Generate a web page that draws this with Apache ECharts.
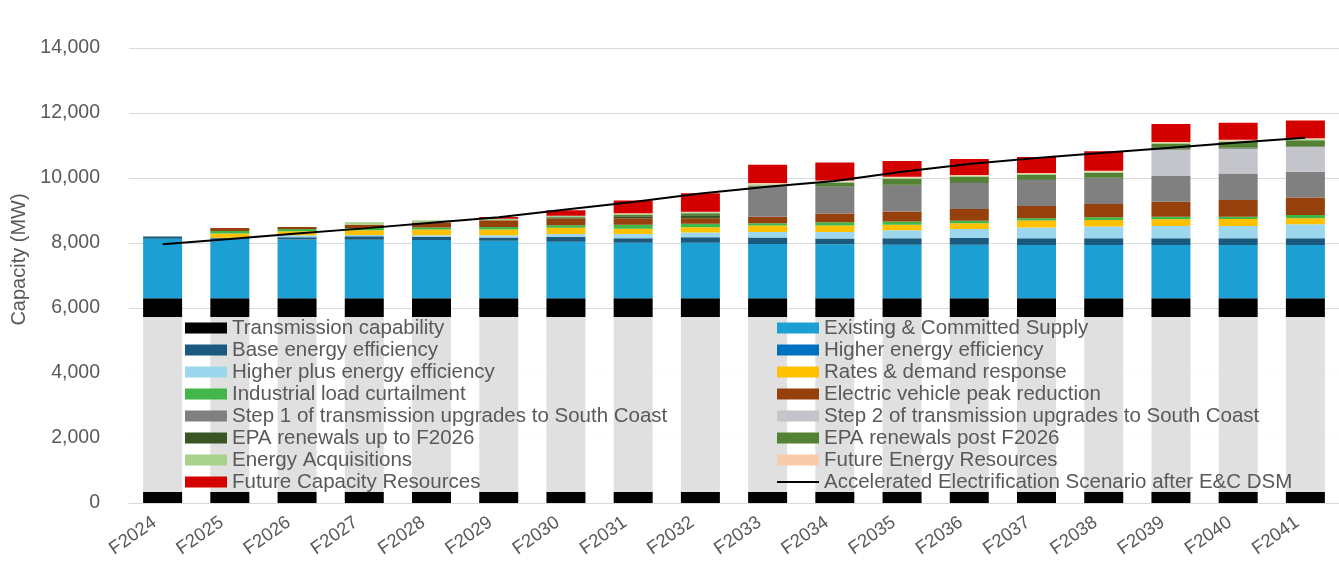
<!DOCTYPE html>
<html>
<head>
<meta charset="utf-8">
<script src="https://cdn.jsdelivr.net/npm/echarts@6/dist/echarts.min.js"></script>
<style>
  html, body { margin: 0; padding: 0; background: #fff; }
  #chart { width: 1339px; height: 577px; }
</style>
</head>
<body>
<div id="chart"></div>
<script>
// categories
const years = ['F2024', 'F2025', 'F2026', 'F2027', 'F2028', 'F2029', 'F2030', 'F2031', 'F2032',
  'F2033', 'F2034', 'F2035', 'F2036', 'F2037', 'F2038', 'F2039', 'F2040', 'F2041'];

// stacked values (MW)
const transmission = [6300, 6300, 6300, 6300, 6300, 6300, 6300, 6300, 6300, 6300, 6300, 6300, 6300, 6300, 6300, 6300, 6300, 6300];
const existing = [1830, 1830, 1810, 1800, 1790, 1770, 1740, 1710, 1710, 1670, 1660, 1650, 1650, 1640, 1640, 1640, 1640, 1640];
const baseEE = [70, 30, 70, 110, 100, 100, 155, 135, 165, 200, 175, 200, 205, 205, 205, 205, 205, 205];
const higherEE = [0, 0, 0, 0, 0, 0, 0, 0, 0, 0, 0, 0, 0, 0, 0, 0, 0, 0];
const higherPlusEE = [0, 0, 60, 40, 50, 70, 80, 135, 145, 170, 200, 245, 275, 330, 360, 380, 380, 430];
const ratesDR = [0, 130, 120, 140, 175, 175, 195, 155, 165, 200, 200, 165, 175, 215, 205, 205, 215, 185];
const industrial = [0, 80, 70, 70, 60, 80, 80, 125, 105, 70, 100, 100, 80, 70, 80, 80, 70, 100];
const evPeak = [0, 90, 60, 100, 155, 205, 205, 205, 175, 200, 275, 310, 360, 380, 410, 460, 510, 540];
const step1 = [0, 0, 0, 0, 0, 0, 0, 0, 0, 920, 820, 800, 810, 800, 790, 790, 820, 790];
const step2 = [0, 0, 0, 0, 0, 0, 0, 0, 0, 0, 0, 0, 0, 0, 0, 820, 770, 770];
const epaUpTo2026 = [0, 0, 0, 0, 0, 0, 40, 60, 90, 20, 20, 20, 20, 20, 20, 20, 20, 20];
const epaPost2026 = [0, 0, 0, 0, 0, 0, 0, 40, 60, 20, 110, 185, 160, 135, 155, 145, 185, 185];
const energyAcq = [0, 0, 0, 80, 70, 50, 40, 30, 30, 40, 30, 30, 30, 30, 30, 30, 30, 30];
const futureEnergy = [0, 0, 0, 0, 0, 0, 0, 20, 20, 35, 30, 30, 30, 30, 30, 30, 30, 30];
const futureCapacity = [0, 0, 0, 0, 0, 50, 175, 390, 565, 560, 555, 490, 490, 490, 595, 555, 525, 545];

// load line
const accelElec = [7960, 8120, 8290, 8450, 8620, 8790, 9030, 9260, 9520, 9730, 9910, 10190, 10430, 10615, 10775, 10930, 11090, 11240];

const FONT = 'Liberation Sans, Arial, sans-serif';
const TXT = '#595959';

const barDefs = [
  ['Transmission capability', transmission, '#000000'],
  ['Existing & Committed Supply', existing, '#1ca0d4'],
  ['Base energy efficiency', baseEE, '#1a5a7e'],
  ['Higher energy efficiency', higherEE, '#0070c0'],
  ['Higher plus energy efficiency', higherPlusEE, '#9dd7ee'],
  ['Rates & demand response', ratesDR, '#ffc000'],
  ['Industrial load curtailment', industrial, '#41b649'],
  ['Electric vehicle peak reduction', evPeak, '#96400c'],
  ['Step 1 of transmission upgrades to South Coast', step1, '#808080'],
  ['Step 2 of transmission upgrades to South Coast', step2, '#c4c4cb'],
  ['EPA renewals up to F2026', epaUpTo2026, '#375623'],
  ['EPA renewals post F2026', epaPost2026, '#548235'],
  ['Energy Acquisitions', energyAcq, '#a9d18e'],
  ['Future Energy Resources', futureEnergy, '#f8cbad'],
  ['Future Capacity Resources', futureCapacity, '#d40000']
];
const lineName = 'Accelerated Electrification Scenario after E&C DSM';

const series = barDefs.map(d => ({
  name: d[0],
  type: 'bar',
  stack: 'total',
  barWidth: 39,
  data: d[1],
  itemStyle: { color: d[2] }
}));
series.push({
  name: lineName,
  type: 'line',
  data: accelElec,
  symbol: 'none',
  lineStyle: { color: '#000', width: 2 },
  itemStyle: { color: '#000' },
  z: 5
});

// legend columns as in the source (row-wise pairs)
const leftCol = [0, 2, 4, 6, 8, 10, 12, 14].map(i => barDefs[i][0]);
const rightCol = [1, 3, 5, 7, 9, 11, 13].map(i => barDefs[i][0])
  .concat([{ name: lineName, icon: 'path://M0,0 H40 V2 H0 Z' }]);

const legendBase = {
  orient: 'vertical',
  top: 317,
  icon: 'rect',
  itemWidth: 42,
  itemHeight: 11,
  itemGap: 0,
  padding: 0,
  selectedMode: false,
  textStyle: { fontFamily: FONT, fontSize: 20.5, lineHeight: 22, color: TXT }
};

const option = {
  animation: false,
  textStyle: { fontFamily: FONT },
  grid: { left: 129, right: 0, top: 48, bottom: 74 },
  graphic: [{
    type: 'rect',
    z: 3,
    shape: { x: 129, y: 317, width: 1210, height: 175 },
    style: { fill: 'rgba(255,255,255,0.88)' }
  }],
  legend: [
    Object.assign({}, legendBase, { left: 185, data: leftCol }),
    Object.assign({}, legendBase, { left: 777, data: rightCol })
  ],
  xAxis: {
    type: 'category',
    data: years,
    axisTick: { show: false },
    axisLine: { show: true, lineStyle: { color: '#d9d9d9' } },
    axisLabel: { rotate: 35, fontSize: 18.5, color: TXT, fontFamily: FONT, margin: 12, padding: [0, 10, 0, 0] }
  },
  yAxis: {
    type: 'value',
    min: 0,
    max: 14000,
    interval: 2000,
    name: 'Capacity (MW)',
    nameLocation: 'middle',
    nameGap: 96,
    nameTextStyle: { fontSize: 20, color: TXT, fontFamily: FONT, padding: [0, 0, 0, 32] },
    axisLine: { show: false },
    axisTick: { show: false },
    splitLine: { lineStyle: { color: '#d9d9d9', width: 1 } },
    axisLabel: {
      fontSize: 19.5, color: TXT, fontFamily: FONT, margin: 29,
      formatter: v => v.toLocaleString('en-US')
    }
  },
  series: series
};

const chart = echarts.init(document.getElementById('chart'));
chart.setOption(option);
</script>
</body>
</html>
